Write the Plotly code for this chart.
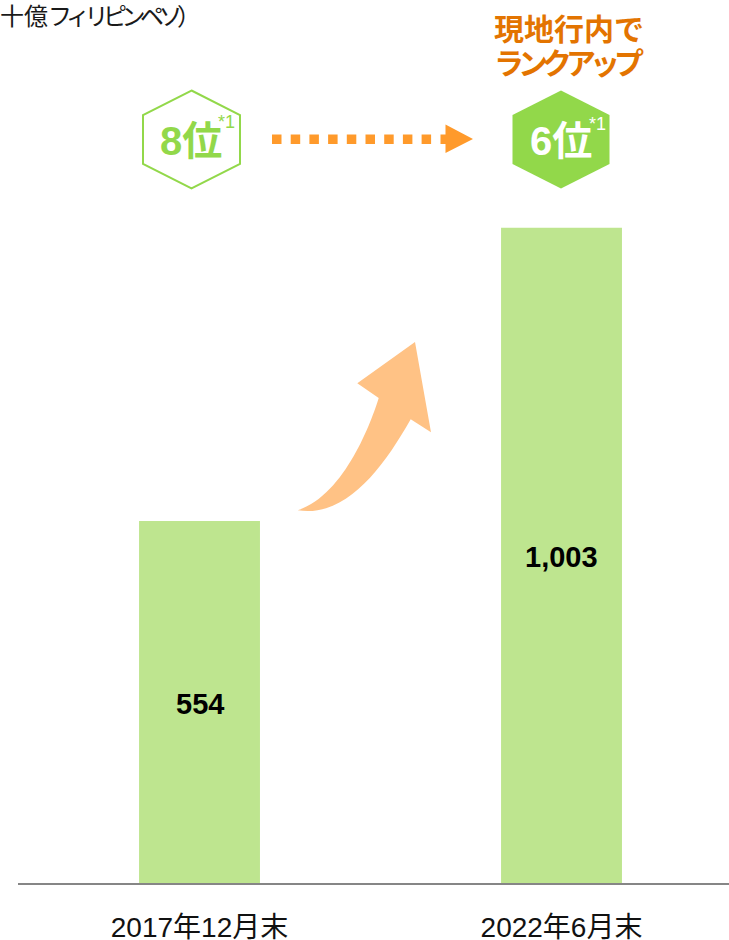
import plotly.graph_objects as go

W, H = 729, 940
L, B = 18, 57
PW, PH = W - L, H - B

categories = ["2017年12月末", "2022年6月末"]
values = [554, 1003]
value_labels = ["554", "1,003"]
ranks = ["8位", "6位"]
unit_head = "十億"
unit_tail = "フィリピンペソ）"
headline = ["現地行内で", "ランクアップ"]

GREEN = "#92D84A"
BAR = "#BEE58F"
ORANGE = "#FF9A2B"
PEACH = "#FFC285"
HEAD = "#E37400"
SANS = "Liberation Sans, Noto Sans CJK JP, sans-serif"
CJK = "Noto Sans CJK JP, sans-serif"


def px(x):
    return (x - L) / PW


def py(y):
    return (PH - y) / PH


def poly(pts):
    return "M " + " L ".join(f"{px(x):.5f},{py(y):.5f}" for x, y in pts) + " Z"


def curve(cmds):
    out = []
    for c, pts in cmds:
        out.append(c + " " + " ".join(f"{px(x):.5f},{py(y):.5f}" for x, y in pts))
    return " ".join(out) + " Z"


def squeeze(text, spacing):
    return f'<span style="letter-spacing:{spacing}px">{text}</span>'


fig = go.Figure(
    go.Bar(
        x=[0, 1],
        y=values,
        width=0.334,
        marker=dict(color=BAR, line=dict(width=0)),
        hoverinfo="skip",
    )
)

shapes = []


def hexagon(cx, filled):
    pts = [(cx, 90.5), (cx + 48.5, 115), (cx + 48.5, 164), (cx, 188.5), (cx - 48.5, 164), (cx - 48.5, 115)]
    shapes.append(
        dict(
            type="path",
            xref="paper",
            yref="paper",
            path=poly(pts),
            fillcolor=GREEN if filled else "#FFFFFF",
            line=dict(color=GREEN, width=2 if not filled else 0),
        )
    )


hexagon(191.5, False)
hexagon(561, True)

# dotted arrow
for i in range(9):
    x0 = 272 + i * 18.7
    shapes.append(
        dict(type="rect", xref="paper", yref="paper", x0=px(x0), x1=px(x0 + 9.5),
             y0=py(144), y1=py(134.5), fillcolor=ORANGE, line=dict(width=0))
    )
shapes.append(
    dict(type="path", xref="paper", yref="paper",
         path=poly([(440.5, 134.5), (445.5, 134.5), (445.5, 124.5), (473, 139), (445.5, 153), (445.5, 144), (440.5, 144)]),
         fillcolor=ORANGE, line=dict(width=0))
)

# rising arrow
shapes.append(
    dict(type="path", xref="paper", yref="paper",
         path=curve([
             ("M", [(415, 342)]),
             ("L", [(357.3, 383.3)]),
             ("L", [(378.7, 398)]),
             ("C", [(372, 420), (345, 495), (297.7, 510.3)]),
             ("C", [(345, 518), (382, 470), (410.7, 419.3)]),
             ("L", [(431, 432.3)]),
         ]),
         fillcolor=PEACH, line=dict(width=0))
)

annotations = []


def label(x, y, text, size, color, family=SANS, weight="normal", anchor="center"):
    annotations.append(
        dict(xref="paper", yref="paper", x=px(x), y=py(y), text=text, showarrow=False,
             xanchor=anchor, yanchor="middle", align="center",
             font=dict(family=family, size=size, color=color, weight=weight))
    )


for i, (v, t) in enumerate(zip(values, value_labels)):
    annotations.append(
        dict(xref="x", yref="y", x=i, y=v / 2, yshift=-2, text=t, showarrow=False,
             xanchor="center", yanchor="middle",
             font=dict(family=SANS, size=29, color="#000000", weight="bold"))
    )

label(191, 141, ranks[0], 40, GREEN, weight="bold")
label(561, 141, ranks[1], 40, "#FFFFFF", weight="bold")
label(226, 122, "*1", 18, GREEN)
label(597.5, 124, "*1", 18, "#FFFFFF")
label(568.5, 27, headline[0], 30, HEAD, family=CJK, weight="bold")
label(568.5, 61, squeeze(headline[1], -6), 30, HEAD, family=CJK, weight="bold")
label(-2, 15, unit_head + squeeze(unit_tail, -5.5), 24, "#1A1A1A", family=CJK, anchor="left")

fig.update_layout(
    width=W,
    height=H,
    margin=dict(l=L, r=0, t=0, b=B, pad=0),
    paper_bgcolor="#FFFFFF",
    plot_bgcolor="#FFFFFF",
    showlegend=False,
    shapes=shapes,
    annotations=annotations,
    xaxis=dict(
        range=[-0.5014, 1.4627],
        tickmode="array",
        tickvals=[0, 1],
        ticktext=categories,
        ticks="outside",
        ticklen=18,
        tickcolor="rgba(0,0,0,0)",
        showgrid=False,
        zeroline=False,
        showline=True,
        linecolor="#868686",
        linewidth=2,
        tickfont=dict(family=SANS, size=28, color="#111111"),
        automargin=False,
    ),
    yaxis=dict(range=[0, 1351.6], visible=False, showgrid=False, zeroline=False),
)

fig.write_html("out.html", post_script="document.body.style.margin='0';",
               config=dict(displayModeBar=False))
